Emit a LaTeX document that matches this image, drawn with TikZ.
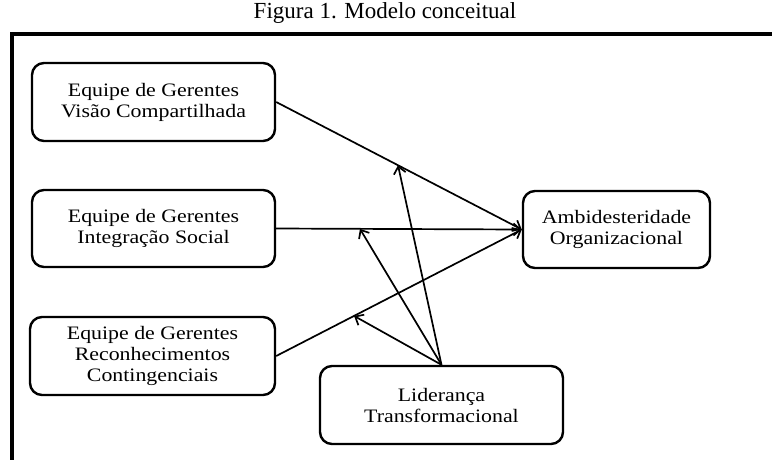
\documentclass[tikz,border=0pt]{standalone}
\usepackage{fontspec}
\setmainfont{Liberation Serif}
\newfontfamily\boxfont[FakeStretch=1.15]{Liberation Serif}
\usetikzlibrary{arrows.meta,calc}

\begin{document}
\begin{tikzpicture}[x=1pt,y=-1pt,
		box/.style={draw,line width=2.4pt,rounded corners=12pt,align=center,
			font=\boxfont\fontsize{19}{21}\selectfont,inner sep=0pt},
		link/.style={line width=1.7pt,-{Straight Barb[length=7pt,width=12pt,line width=1.7pt]}}]
		\useasboundingbox (0,0) rectangle (772,459);
		% frame and title
		\draw [line width=3.5pt] (12,465) -- (12,34) -- (780,34);
		\node (title) at (385,13) {\fontsize{23}{26}\selectfont Figura 1. Modelo conceitual};
		% boxes
		\node [box,minimum width=243pt,minimum height=78pt] (visao) at (153.5,102) {Equipe de Gerentes\\Visão Compartilhada};
		\node [box,minimum width=243pt,minimum height=77pt] (integ) at (153.5,228.5) {Equipe de Gerentes\\Integração Social};
		\node [box,minimum width=245pt,minimum height=78pt] (recon) at (152.5,356) {Equipe de Gerentes\\Reconhecimentos\\Contingenciais};
		\node [box,minimum width=243pt,minimum height=78pt] (lider) at (441.5,405) {Liderança\\Transformacional};
		\node [box,minimum width=187pt,minimum height=77pt] (ambi) at (616.5,229.5) {Ambidesteridade\\Organizacional};
		% main effects
		\draw [link] (visao.east) -- (ambi.west);
		\draw [link] (integ.east) -- (ambi.west);
		\draw [link] (recon.east) -- (ambi.west);
		% moderation points
		\coordinate (m1) at ($(visao.east)!0.496!(ambi.west)$);
		\coordinate (m2) at ($(integ.east)!0.341!(ambi.west)$);
		\coordinate (m3) at ($(recon.east)!0.317!(ambi.west)$);
		\draw [link] (lider.north) -- (m1);
		\draw [link] (lider.north) -- (m2);
		\draw [link] (lider.north) -- (m3);
\end{tikzpicture}
\end{document}
